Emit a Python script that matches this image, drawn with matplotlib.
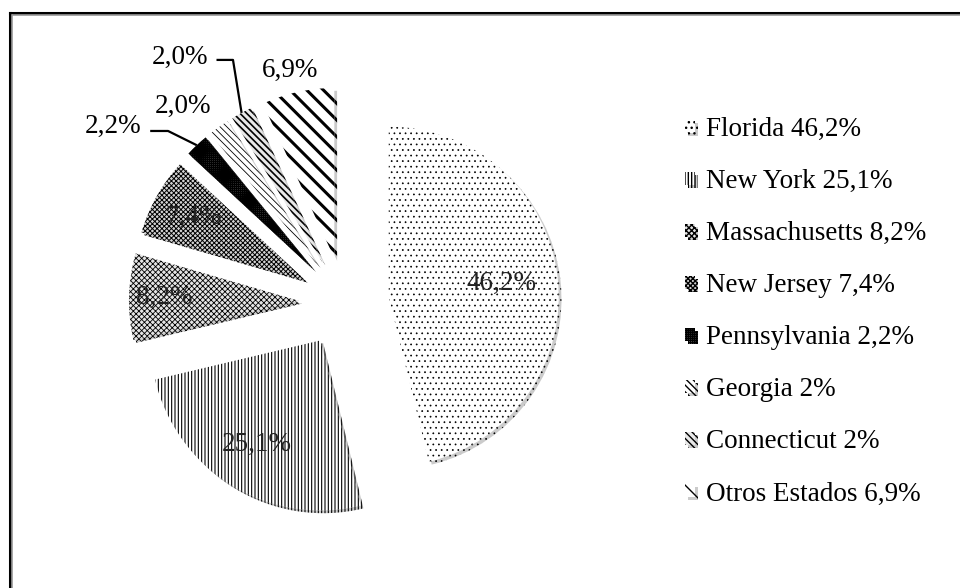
import matplotlib
matplotlib.use("Agg")
import matplotlib.pyplot as plt
import matplotlib.patheffects as pe
import numpy as np
from matplotlib.lines import Line2D

# data
states = ["Florida", "New York", "Massachusetts", "New Jersey",
          "Pennsylvania", "Georgia", "Connecticut", "Otros Estados"]
shares = [46.2, 25.1, 8.2, 7.4, 2.2, 2.0, 2.0, 6.9]
legend_pct = ["46,2%", "25,1%", "8,2%", "7,4%", "2,2%", "2%", "2%", "6,9%"]
slice_pct = ["46,2%", "25,1%", "8,2%", "7,4%", "2,2%", "2,0%", "2,0%", "6,9%"]

# style
hatches = ["...", "|||||", "xxxxxx", "xxxxxxx", "++++++++", "\\\\\\\\\\", "\\\\\\\\\\", "\\\\"]
faces = ["white", "white", "#e4e4e4", "#d4d4d4", "#707070", "white", "#e8e8e8", "white"]
hatch_lw = [0.5, 0.8, 0.6, 0.7, 1.0, 0.6, 1.2, 2.2]
inside_r = [0.67, 0.72, 0.79, 0.75, None, None, None, None]
# outside label positions (data units) and leader elbows for small slices
outside = {4: (-1.36, 1.035), 5: (-0.95, 1.15), 6: (-0.965, 1.44), 7: (-0.32, 1.365)}
leaders = {4: [(-1.14, 1.006), (-1.035, 1.006)], 6: [(-0.75, 1.424), (-0.653, 1.424)]}

W, H, R = 960, 588, 170.0
cx, cy = 344, 302
explode = 0.265
fs = 19.5

plt.rcParams["font.family"] = ["Liberation Serif", "DejaVu Serif"]
plt.rcParams["hatch.color"] = "black"

fig = plt.figure(figsize=(W / 100, H / 100), dpi=100)
ax = fig.add_axes([0, 0, 1, 1])

wedges, _ = ax.pie(shares, startangle=90, counterclock=False, radius=1.0,
                   explode=[explode] * len(shares),
                   wedgeprops=dict(linewidth=0, edgecolor="black"))
ax.set_aspect("auto")
ax.set_xlim(-cx / R, (W - cx) / R)
ax.set_ylim(-(H - cy) / R, cy / R)
ax.axis("off")

for w, h, fc, lw in zip(wedges, hatches, faces, hatch_lw):
    w.set_facecolor(fc)
    w.set_hatch(h)
    if hasattr(w, "set_hatch_linewidth"):
        w.set_hatch_linewidth(lw)
    w.set_path_effects([pe.SimplePatchShadow(offset=(2, -2), shadow_rgbFace="#999999", alpha=0.5),
                        pe.Normal()])

for i, w in enumerate(wedges):
    mid = np.deg2rad((w.theta1 + w.theta2) / 2)
    ox, oy = w.center
    if inside_r[i] is not None:
        ax.text(ox + inside_r[i] * np.cos(mid), oy + inside_r[i] * np.sin(mid),
                slice_pct[i], ha="center", va="center", fontsize=fs, color="#222222")
    else:
        tx, ty = outside[i]
        ax.text(tx, ty, slice_pct[i], ha="center", va="center", fontsize=fs)
        if i in leaders:
            edge = (ox + np.cos(mid), oy + np.sin(mid))
            pts = leaders[i] + [edge]
            ax.plot([p[0] for p in pts], [p[1] for p in pts], color="black", lw=1.6,
                    solid_capstyle="butt")

labels = [f"{s} {p}" for s, p in zip(states, legend_pct)]
ax.legend(wedges, labels, loc="upper left", bbox_to_anchor=(685 / W, 1 - 117 / H),
          bbox_transform=fig.transFigure, frameon=False, fontsize=fs,
          handlelength=0.37, handleheight=0.37, handletextpad=0.4,
          labelspacing=1.0, borderpad=0, borderaxespad=0)

# frame (only top and left edges visible)
fig.add_artist(Line2D([10 / W, 1], [1 - 13 / H] * 2, color="black", lw=2.2))
fig.add_artist(Line2D([12 / W, 1], [1 - 15 / H] * 2, color="#999999", lw=1.2))
fig.add_artist(Line2D([10 / W] * 2, [0, 1 - 13 / H], color="black", lw=2.2))
fig.add_artist(Line2D([12 / W] * 2, [0, 1 - 15 / H], color="#999999", lw=1.2))

fig.savefig("out.png", dpi=100)
